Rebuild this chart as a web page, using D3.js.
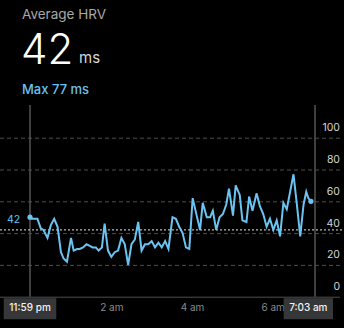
<!DOCTYPE html>
<html>
<head>
<meta charset="utf-8">
<script src="https://cdn.jsdelivr.net/npm/d3@7"></script>
<style>
  html, body { margin: 0; padding: 0; background: #000; }
  svg { display: block; }
  text { font-family: Inter, "Noto Sans", sans-serif; }
</style>
</head>
<body>
<svg id="chart" width="344" height="328"></svg>
<script>
// Overnight HRV samples (ms) with their clock times
const sampleTimes = [
  "23:59","00:02","00:10","00:15","00:19","00:25","00:30","00:35","00:40","00:45",
  "00:49","00:54","01:00","01:04","01:09","01:13","01:18","01:23","01:28","01:32",
  "01:37","01:41","01:46","01:50","01:55","02:00","02:05","02:10","02:15","02:20",
  "02:25","02:30","02:35","02:40","02:45","02:50","02:55","03:00","03:05","03:10",
  "03:15","03:20","03:25","03:31","03:36","03:41","03:46","03:51","03:56","04:01",
  "04:07","04:12","04:16","04:22","04:27","04:31","04:36","04:41","04:46","04:51",
  "04:55","05:01","05:05","05:11","05:15","05:21","05:25","05:30","05:36","05:41",
  "05:46","05:51","05:56","06:01","06:06","06:11","06:16","06:21","06:26","06:31",
  "06:36","06:41","06:46","06:50","06:53","06:57"
];
const hrvValues = [
  50, 49, 49, 43, 42, 37, 45, 49, 44, 28,
  24, 22, 37, 29, 30, 30, 31, 33, 32, 31,
  31, 29, 31, 46, 29, 25, 28, 29, 37, 33,
  20, 33, 36, 47, 29, 33, 33, 35, 31, 34,
  31, 35, 30, 50, 49, 44, 40, 31, 30, 62,
  51, 42, 59, 50, 50, 54, 42, 50, 52, 58,
  68, 51, 70, 64, 48, 47, 63, 54, 65, 57,
  52, 44, 49, 42, 48, 38, 59, 55, 66, 77,
  58, 38, 58, 66, 62, 60
];
const averageHrv = 42;
const maxHrv = 77;
const yTicks = [0, 20, 40, 60, 80, 100];
const xTickLabels = ["2 am", "4 am", "6 am"];
const xTickTimes = ["02:00", "04:00", "06:00"];
const startLabel = "11:59 pm", endLabel = "7:03 am";
const startTime = "23:59", endTime = "07:03";

// clock time -> Date (times before noon belong to the next day)
function toDate(hm) {
  const [h, m] = hm.split(":").map(Number);
  return new Date(2024, 0, h >= 12 ? 1 : 2, h, m);
}

const data = sampleTimes.map((t, i) => ({ t: toDate(t), v: hrvValues[i] }));

const svg = d3.select("#chart");
const W = 344;
const blue = "#6bc3f1";

const x = d3.scaleTime().domain([toDate(startTime), toDate(endTime)]).range([30, 315]);
const y = d3.scaleLinear().domain([0, 100]).range([296.7, 137.7]);

// header
svg.append("text").attr("x", 22).attr("y", 19)
  .attr("font-size", 13.5).attr("fill", "#a8a8a8").text("Average HRV");
svg.append("text").attr("x", 21).attr("y", 64)
  .attr("font-size", 42).attr("font-weight", 300).attr("fill", "#fff").text(averageHrv);
svg.append("text").attr("x", 79).attr("y", 63)
  .attr("font-size", 15).attr("fill", "#d8d8d8").text("ms");
svg.append("text").attr("x", 22).attr("y", 94)
  .attr("font-size", 13).attr("font-weight", 500).attr("fill", blue).text(`Max ${maxHrv} ms`);

// horizontal grid + right-side value labels
const yAxis = svg.append("g").attr("transform", `translate(${W - 4},0)`)
  .call(d3.axisLeft(y).tickValues(yTicks).tickSize(W - 4).tickSizeOuter(0).tickFormat(d3.format("d")));
yAxis.select(".domain").remove();
yAxis.selectAll(".tick line")
  .attr("stroke", "#4f4f4f").attr("stroke-width", 1)
  .attr("stroke-dasharray", d => d === 0 ? null : "4,3");
yAxis.selectAll(".tick text")
  .attr("x", 0).attr("dy", -7).attr("text-anchor", "end")
  .attr("font-size", 10.5).attr("fill", "#d6d6d6");

// vertical bounds of the night
[toDate(startTime), toDate(endTime)].forEach(d => {
  svg.append("line").attr("x1", x(d)).attr("x2", x(d))
    .attr("y1", 105).attr("y2", y(0))
    .attr("stroke", "#555").attr("stroke-width", 1.5);
});

// average reference line
svg.append("line").attr("x1", 0).attr("x2", W)
  .attr("y1", y(averageHrv)).attr("y2", y(averageHrv))
  .attr("stroke", "#b5b5b5").attr("stroke-width", 1.2).attr("stroke-dasharray", "2,2");
svg.append("text").attr("x", 7).attr("y", y(averageHrv) - 7)
  .attr("font-size", 10.5).attr("fill", blue).text(averageHrv);

// HRV line
const line = d3.line().x(d => x(d.t)).y(d => y(d.v));
svg.append("path").datum(data)
  .attr("d", line).attr("fill", "none")
  .attr("stroke", blue).attr("stroke-width", 2).attr("stroke-linejoin", "miter");
[data[0], data[data.length - 1]].forEach(d => {
  svg.append("circle").attr("cx", x(d.t)).attr("cy", y(d.v)).attr("r", 2.6).attr("fill", blue);
});

// time axis
const xAxis = svg.append("g").attr("transform", `translate(0,${y(0) + 12})`)
  .call(d3.axisBottom(x).tickValues(xTickTimes.map(toDate))
    .tickFormat((d, i) => xTickLabels[i]).tickSize(0));
xAxis.select(".domain").remove();
xAxis.selectAll(".tick text").attr("dy", 0).attr("y", 0)
  .attr("font-size", 10).attr("fill", "#8a8a8a").attr("dominant-baseline", "middle");

// boxed start / end labels, kept inside the plot's margins
[[startTime, startLabel], [endTime, endLabel]].forEach(([t, label]) => {
  const g = svg.append("g");
  const txt = g.append("text")
    .attr("text-anchor", "middle").attr("dominant-baseline", "middle")
    .attr("font-size", 10).attr("font-weight", 500).attr("fill", "#f2f2f2").text(label);
  const w = txt.node().getComputedTextLength() + 11;
  const cx = Math.min(x(toDate(t)), W - 11 - w / 2);
  txt.attr("x", cx).attr("y", y(0) + 12);
  g.insert("rect", "text").attr("x", cx - w / 2).attr("y", y(0) + 1.5)
    .attr("width", w).attr("height", 21).attr("fill", "#363738");
});
</script>
</body>
</html>
